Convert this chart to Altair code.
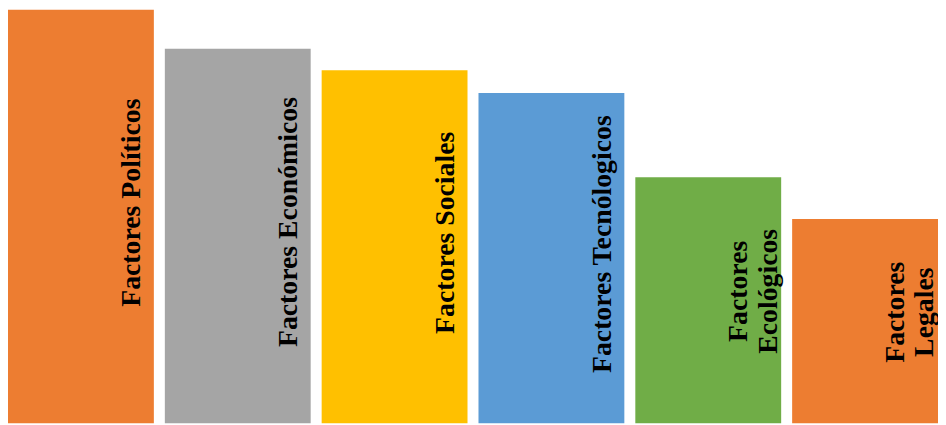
import altair as alt
import pandas as pd

categories = ["Factores Políticos", "Factores Económicos", "Factores Sociales",
              "Factores Tecnólogicos", "Factores Ecológicos", "Factores Legales"]
labels = ["Factores Políticos", "Factores Económicos", "Factores Sociales",
          "Factores Tecnólogicos", "Factores\nEcológicos", "Factores\nLegales"]
values = [100, 90.6, 85.4, 79.9, 59.5, 49.4]
colors = ["#ED7D31", "#A5A5A5", "#FFC000", "#5B9BD5", "#70AD47", "#ED7D31"]

df = pd.DataFrame({"cat": categories, "label": labels, "value": values})
df["mid"] = df["value"] / 2
df["multi"] = df["label"].str.contains("\n")

x = alt.X("cat:N", sort=categories, axis=None,
          scale=alt.Scale(paddingInner=0.07, paddingOuter=0))
y_scale = alt.Scale(domain=[0, 100], nice=False, zero=True)

base = alt.Chart(df)

bars = base.mark_bar(cornerRadius=0).encode(
    x=x,
    y=alt.Y("value:Q", scale=y_scale, axis=None),
    color=alt.Color("cat:N", scale=alt.Scale(domain=categories, range=colors), legend=None),
)

text_single = base.transform_filter("!datum.multi").mark_text(
    angle=270, align="center", baseline="alphabetic", dx=14, dy=60,
    font="Liberation Serif", fontWeight="bold", fontSize=28, color="black",
).encode(
    x=x,
    y=alt.Y("mid:Q", scale=y_scale, axis=None),
    text="label:N",
)

text_multi = base.transform_filter("datum.multi").mark_text(
    angle=270, align="center", baseline="alphabetic", dx=9, dy=39,
    font="Liberation Serif", fontWeight="bold", fontSize=28, color="black",
    lineBreak="\n", lineHeight=30,
).encode(
    x=x,
    y=alt.Y("mid:Q", scale=y_scale, axis=None),
    text="label:N",
)

chart = alt.layer(bars, text_single, text_multi).properties(
    width=938, height=417,
    padding=0,
    autosize=alt.AutoSizeParams(type="none"),
).configure_view(stroke=None)

chart.save("out.html", embed_options={"renderer": "svg", "actions": False})
